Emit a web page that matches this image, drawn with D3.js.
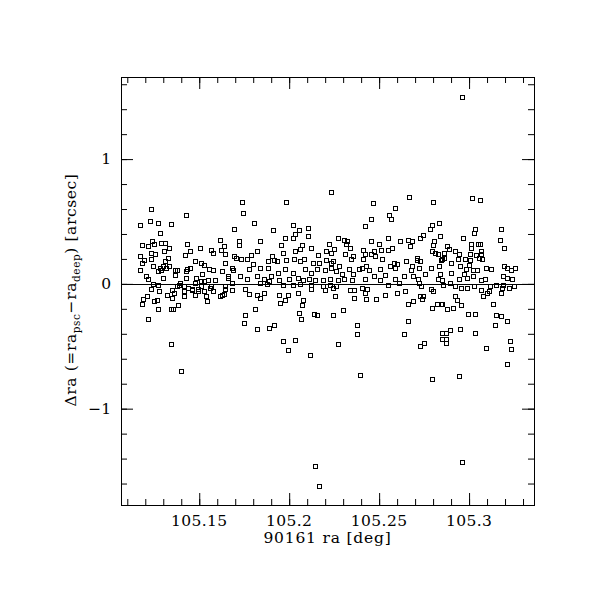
<!DOCTYPE html>
<html>
<head>
<meta charset="utf-8">
<script src="https://cdn.jsdelivr.net/npm/d3@7"></script>
<style>
  body { margin: 0; background: #fff; }
  svg { display: block; }
</style>
</head>
<body>
<svg id="chart" width="611" height="611"></svg>
<script>
// ra of each source [deg]
var raVals = [
  105.1233,105.1426,105.1172,105.1228,105.1272,105.1341,105.1281,105.1183,105.1239,105.1217,
  105.1250,105.1289,105.1311,105.1331,105.1433,105.1506,105.1615,105.1639,105.1567,105.1576,
  105.1622,105.1641,105.1256,105.1231,105.1306,105.1448,105.1419,105.1172,105.1328,105.1193,
  105.1233,105.1311,105.1478,105.1183,105.1511,105.1524,105.1641,105.1241,105.1283,105.1296,
  105.1333,105.1317,105.1289,105.1269,105.1367,105.1378,105.1433,105.1428,105.1450,105.1172,
  105.1556,105.1574,105.1626,105.1202,105.1215,105.1296,105.1363,105.1424,105.1483,105.1515,
  105.1548,105.1585,105.1659,105.1243,105.1269,105.1393,105.1374,105.1474,105.1511,105.1526,
  105.1641,105.1233,105.1278,105.1346,105.1359,105.1319,105.1350,105.1417,105.1417,105.1459,
  105.1474,105.1493,105.1524,105.1539,105.1561,105.1578,105.1613,105.1626,105.1639,105.1189,
  105.1183,105.1211,105.1246,105.1265,105.1272,105.1343,105.1352,105.1380,105.1544,105.1217,
  105.1344,105.1400,105.1439,105.1459,105.1415,105.1387,105.1511,105.1567,105.1493,
  // 105.165 - 105.225
  105.2233,105.1739,105.1983,105.1743,105.1806,105.1694,105.1911,105.2022,105.2102,105.2056,
  105.2033,105.2106,105.1978,105.2022,105.1722,105.1719,105.1839,105.1954,105.2072,105.2061,
  105.2035,105.2120,105.2222,105.2207,105.2233,105.1822,105.1967,105.2161,105.1694,105.1706,
  105.1789,105.1902,105.1733,105.1767,105.1800,105.1881,105.1915,105.1930,105.1985,105.2026,
  105.2061,105.2085,105.2130,105.2165,105.2207,105.2233,105.1680,105.1689,105.1776,105.1839,
  105.1880,105.1939,105.1978,105.2019,105.2087,105.2120,105.2157,105.2198,105.2233,105.1661,
  105.1726,105.1763,105.1822,105.1861,105.1900,105.1944,105.2000,105.2048,105.2078,105.2109,
  105.2141,105.2189,105.2226,105.1683,105.1837,105.1874,105.1885,105.1963,105.2022,105.2059,
  105.2124,105.2189,105.2226,105.1644,105.1683,105.1752,105.1776,105.1819,105.1839,105.1859,
  105.1946,105.1993,105.2048,105.2122,105.2198,105.2254,105.1950,105.1978,105.2078,105.2072,
  105.1811,105.2056,105.2063,105.2139,105.2156,105.2243,105.1756,105.1750,105.1822,105.1889,
  105.1917,105.1965,105.2033,105.1994,105.2115,105.2143,105.2165,
  // 105.225 - 105.285
  105.2667,105.2467,105.2589,105.2802,105.2556,105.2567,105.2456,105.2422,105.2831,105.2794,
  105.2783,105.2743,105.2728,105.2837,105.2274,105.2306,105.2320,105.2317,105.2454,105.2500,
  105.2550,105.2617,105.2663,105.2681,105.2674,105.2804,105.2800,105.2796,105.2248,105.2339,
  105.2311,105.2411,105.2474,105.2513,105.2550,105.2574,105.2424,105.2457,105.2478,105.2517,
  105.2356,105.2343,105.2411,105.2709,105.2811,105.2830,105.2843,105.2650,105.2713,105.2728,
  105.2246,105.2278,105.2330,105.2404,105.2428,105.2506,105.2581,105.2600,105.2587,105.2561,
  105.2683,105.2676,105.2719,105.2787,105.2833,105.2263,105.2296,105.2357,105.2389,105.2441,
  105.2469,105.2533,105.2589,105.2639,105.2687,105.2715,105.2756,105.2826,105.2274,105.2307,
  105.2348,105.2422,105.2504,105.2552,105.2613,105.2724,105.2733,105.2263,105.2244,105.2339,
  105.2361,105.2404,105.2430,105.2422,105.2598,105.2644,105.2787,105.2800,105.2256,105.2363,
  105.2428,105.2483,105.2533,105.2689,105.2661,105.2728,105.2746,105.2739,105.2794,105.2822,
  105.2843,105.2300,105.2244,105.2661,105.2378,105.2378,105.2639,105.2272,105.2752,105.2728,
  105.2848,105.2848,105.2394,105.2793,
  // 105.285 - 105.330
  105.3017,105.3061,105.3030,105.3035,105.3178,105.2965,105.3170,105.3194,105.3011,105.3011,
  105.3050,105.3061,105.2876,105.2887,105.2859,105.2924,105.2943,105.3007,105.3065,105.3067,
  105.3041,105.3054,105.3072,105.2937,105.2978,105.2848,105.2863,105.2902,105.2950,105.3004,
  105.3000,105.3096,105.3124,105.3194,105.3213,105.3231,105.3257,105.2983,105.3020,105.3044,
  105.2837,105.2902,105.2972,105.2946,105.2987,105.3020,105.3065,105.3089,105.3187,105.3211,
  105.3239,105.2850,105.2893,105.2857,105.2924,105.2955,105.2987,105.3026,105.3115,105.3152,
  105.3183,105.3222,105.3248,105.3189,105.3065,105.3109,105.3078,105.3102,105.3176,105.2924,
  105.2931,105.2955,105.2911,105.2876,105.2852,105.3131,105.2996,105.3033,105.3150,105.3176,
  105.3211,105.3144,105.2950,105.2893,105.2870,105.3035,105.2869,105.2874,105.3094,105.3228,
  105.3233,105.3211,105.2944,105.2961,105.2961
];

// delta ra, psc minus deep [arcsec]
var draVals = [
  0.60,0.55,0.47,0.50,0.49,0.48,0.41,0.31,0.34,0.30,
  0.32,0.33,0.33,0.29,0.32,0.29,0.35,0.30,0.27,0.25,
  0.27,0.24,0.24,0.25,0.26,0.26,0.23,0.22,0.21,0.19,
  0.20,0.18,0.18,0.17,0.17,0.15,0.17,0.14,0.13,0.14,
  0.14,0.13,0.11,0.10,0.11,0.11,0.12,0.10,0.13,0.11,
  0.12,0.11,0.10,0.06,0.04,0.05,0.07,0.05,0.05,0.08,
  0.03,0.03,0.06,0.00,-0.01,0.01,-0.02,0.01,0.02,0.02,
  -0.02,-0.04,-0.06,-0.05,-0.07,-0.09,-0.11,-0.06,-0.10,-0.05,
  -0.09,-0.06,-0.06,-0.10,-0.03,-0.06,-0.10,-0.09,-0.08,-0.12,
  -0.16,-0.10,-0.14,-0.13,-0.20,-0.20,-0.20,-0.17,-0.14,-0.28,
  -0.48,-0.70,-0.03,-0.04,-0.02,-0.01,-0.02,-0.02,-0.04,
  // 105.165 - 105.225
  0.74,0.66,0.66,0.57,0.49,0.44,0.43,0.47,0.45,0.43,
  0.40,0.38,0.37,0.37,0.34,0.31,0.34,0.31,0.31,0.28,
  0.26,0.29,0.32,0.26,0.25,0.26,0.25,0.23,0.22,0.21,
  0.23,0.22,0.20,0.20,0.16,0.18,0.19,0.18,0.19,0.20,
  0.18,0.20,0.17,0.17,0.19,0.17,0.13,0.11,0.12,0.13,
  0.13,0.09,0.12,0.09,0.12,0.09,0.12,0.11,0.13,0.05,
  0.06,0.04,0.06,0.04,0.06,0.03,0.04,0.05,0.03,0.04,
  0.03,0.03,0.04,0.01,0.01,0.00,0.02,-0.01,-0.01,0.00,
  -0.01,-0.02,-0.01,-0.04,-0.05,-0.04,-0.08,-0.09,-0.11,-0.07,
  -0.09,-0.09,-0.07,-0.04,-0.05,-0.10,-0.15,-0.13,-0.13,-0.17,
  -0.20,-0.23,-0.28,-0.24,-0.25,-0.25,-0.25,-0.31,-0.36,-0.35,
  -0.33,-0.46,-0.45,-0.53,-0.57,-1.46,-1.62,
  // 105.225 - 105.285
  0.70,0.65,0.61,0.66,0.55,0.52,0.52,0.46,0.49,0.47,
  0.44,0.39,0.37,0.38,0.37,0.35,0.34,0.32,0.34,0.32,
  0.37,0.34,0.35,0.34,0.30,0.34,0.31,0.26,0.28,0.29,
  0.24,0.27,0.26,0.27,0.27,0.29,0.24,0.24,0.22,0.20,
  0.22,0.20,0.20,0.21,0.25,0.24,0.19,0.18,0.19,0.18,
  0.18,0.14,0.12,0.13,0.14,0.12,0.17,0.16,0.13,0.14,
  0.14,0.11,0.13,0.13,0.14,0.10,0.08,0.08,0.12,0.11,
  0.06,0.07,0.04,0.06,0.06,0.04,0.08,0.04,0.03,0.04,
  0.03,0.04,0.03,-0.01,0.01,0.01,-0.02,-0.02,-0.03,-0.05,
  -0.05,-0.03,-0.04,-0.07,-0.07,-0.06,-0.04,-0.06,-0.10,-0.11,
  -0.12,-0.12,-0.09,-0.14,-0.16,-0.10,-0.10,-0.12,-0.19,-0.16,
  -0.16,-0.21,-0.25,-0.30,-0.33,-0.40,-0.40,-0.48,-0.47,-0.50,
  -0.44,-0.39,-0.73,-0.76,
  // 105.285 - 105.330
  0.69,0.67,0.41,0.44,0.44,0.37,0.35,0.29,0.32,0.29,
  0.32,0.32,0.30,0.28,0.25,0.26,0.24,0.24,0.26,0.24,
  0.23,0.21,0.20,0.20,0.20,0.20,0.21,0.17,0.14,0.19,
  0.15,0.13,0.12,0.14,0.13,0.11,0.13,0.12,0.11,0.11,
  0.08,0.09,0.08,0.04,0.05,0.06,0.03,0.04,0.06,0.05,
  0.04,0.03,0.01,-0.01,-0.02,-0.03,-0.03,-0.02,-0.02,-0.01,
  -0.03,-0.03,-0.02,-0.01,-0.05,-0.06,-0.10,-0.07,-0.07,-0.10,
  -0.13,-0.17,-0.19,-0.20,-0.16,-0.16,-0.24,-0.24,-0.25,-0.26,
  -0.30,-0.33,-0.36,-0.37,-0.39,-0.39,-0.44,-0.47,-0.51,-0.46,
  -0.52,-0.64,-0.74,1.50,-1.43
];

var xMajorTicks = [105.15, 105.2, 105.25, 105.3];
var xTickLabels = ["105.15", "105.2", "105.25", "105.3"];
var yMajorTicks = [-1, 0, 1];
var yTickLabels = ["\u22121", "0", "1"];

var svg = d3.select("#chart");

var plot = { left: 121, top: 77, right: 534, bottom: 505 };
var font = "'DejaVu Serif', serif";

var x = d3.scaleLinear().domain([105.1065, 105.3361]).range([plot.left, plot.right]);
var y = d3.scaleLinear().domain([-1.772, 1.658]).range([plot.bottom, plot.top]);

var xMinor = d3.range(105.11, 105.335, 0.01).map(d => +d.toFixed(2));
var yMinor = d3.range(-1.6, 1.61, 0.2).map(d => +d.toFixed(1));

function tickAxis(axis, g) {
    g.call(axis);
    g.select(".domain").remove();
    g.selectAll("text").remove();
    g.selectAll("line").attr("stroke", "#000").attr("stroke-width", 1);
}

// minor + major ticks on all four sides, pointing in
tickAxis(d3.axisBottom(x).tickValues(xMinor).tickSize(-6), svg.append("g").attr("transform", "translate(0," + plot.bottom + ")"));
tickAxis(d3.axisBottom(x).tickValues(xMajorTicks).tickSize(-12), svg.append("g").attr("transform", "translate(0," + plot.bottom + ")"));
tickAxis(d3.axisTop(x).tickValues(xMinor).tickSize(-6), svg.append("g").attr("transform", "translate(0," + plot.top + ")"));
tickAxis(d3.axisTop(x).tickValues(xMajorTicks).tickSize(-12), svg.append("g").attr("transform", "translate(0," + plot.top + ")"));
tickAxis(d3.axisLeft(y).tickValues(yMinor).tickSize(-6), svg.append("g").attr("transform", "translate(" + plot.left + ",0)"));
tickAxis(d3.axisLeft(y).tickValues(yMajorTicks).tickSize(-12), svg.append("g").attr("transform", "translate(" + plot.left + ",0)"));
tickAxis(d3.axisRight(y).tickValues(yMinor).tickSize(-6), svg.append("g").attr("transform", "translate(" + plot.right + ",0)"));
tickAxis(d3.axisRight(y).tickValues(yMajorTicks).tickSize(-12), svg.append("g").attr("transform", "translate(" + plot.right + ",0)"));

// frame
svg.append("rect")
    .attr("x", plot.left + 0.5)
    .attr("y", plot.top + 0.5)
    .attr("width", plot.right - plot.left)
    .attr("height", plot.bottom - plot.top)
    .attr("fill", "none")
    .attr("stroke", "#000")
    .attr("stroke-width", 1);

// zero line
svg.append("line")
    .attr("x1", plot.left)
    .attr("x2", plot.right)
    .attr("y1", Math.round(y(0)) + 0.5)
    .attr("y2", Math.round(y(0)) + 0.5)
    .attr("stroke", "#000")
    .attr("stroke-width", 1);

// points: open squares
var pts = raVals.map((r, i) => ({ ra: r, dra: draVals[i] }));
svg.append("g")
    .selectAll("rect")
    .data(pts)
    .enter().append("rect")
    .attr("x", d => Math.round(x(d.ra)) - 2 + 0.5)
    .attr("y", d => Math.round(y(d.dra)) - 2 + 0.5)
    .attr("width", 4)
    .attr("height", 4)
    .attr("fill", "none")
    .attr("stroke", "#000")
    .attr("stroke-width", 1);

// tick labels
svg.append("g").selectAll("text")
    .data(xMajorTicks)
    .enter().append("text")
    .attr("x", d => x(d))
    .attr("y", 526)
    .attr("text-anchor", "middle")
    .style("font-family", font)
    .style("font-size", "15.5px")
    .style("letter-spacing", "0.4px")
    .text((d, i) => xTickLabels[i]);

svg.append("g").selectAll("text")
    .data(yMajorTicks)
    .enter().append("text")
    .attr("x", 111)
    .attr("y", d => y(d) + 5)
    .attr("text-anchor", "end")
    .style("font-family", font)
    .style("font-size", "15.5px")
    .text((d, i) => yTickLabels[i]);

// axis titles
svg.append("text")
    .attr("x", (plot.left + plot.right) / 2)
    .attr("y", 543)
    .attr("text-anchor", "middle")
    .style("font-family", font)
    .style("font-size", "15.5px")
    .style("letter-spacing", "0.8px")
    .text("90161 ra [deg]");

var ylab = svg.append("text")
    .attr("transform", "translate(76,290) rotate(-90)")
    .attr("text-anchor", "middle")
    .style("font-family", font)
    .style("font-size", "15.5px")
    .style("letter-spacing", "0.6px");
ylab.append("tspan").text("\u0394ra (=ra");
ylab.append("tspan").attr("dy", 4).style("font-size", "10.5px").text("psc");
ylab.append("tspan").attr("dy", -4).text("\u2212ra");
ylab.append("tspan").attr("dy", 4).style("font-size", "10.5px").text("deep");
ylab.append("tspan").attr("dy", -4).text(") [arcsec]");
</script>
</body>
</html>
